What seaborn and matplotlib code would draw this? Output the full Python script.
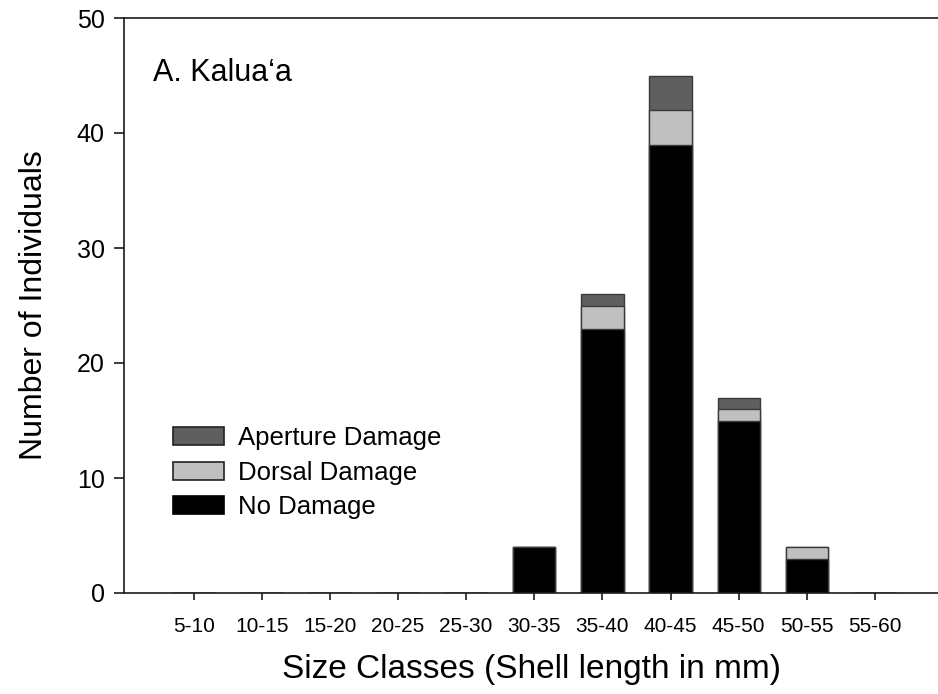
import matplotlib
matplotlib.use("Agg")
import matplotlib.pyplot as plt
import seaborn as sns
import pandas as pd
import numpy as np
from matplotlib.patches import Patch

# Size classes (shell length in mm) and counts per damage category
size_classes = ["5-10", "10-15", "15-20", "20-25", "25-30", "30-35",
                "35-40", "40-45", "45-50", "50-55", "55-60"]
no_damage = [0, 0, 0, 0, 0, 4, 23, 39, 15, 3, 0]
dorsal_damage = [0, 0, 0, 0, 0, 0, 2, 3, 1, 1, 0]
aperture_damage = [0, 0, 0, 0, 0, 0, 1, 3, 1, 0, 0]

sns.set_theme(style="ticks")
plt.rcParams["font.family"] = ["Liberation Sans", "DejaVu Sans"]
plt.rcParams["text.color"] = "black"
plt.rcParams["axes.labelcolor"] = "black"
plt.rcParams["xtick.color"] = "black"
plt.rcParams["ytick.color"] = "black"

df = pd.DataFrame({
    "size": size_classes,
    "none": no_damage,
    "dorsal": dorsal_damage,
    "aperture": aperture_damage,
})
df["lvl2"] = df["none"] + df["dorsal"]
df["lvl3"] = df["lvl2"] + df["aperture"]

c_ap, c_do, c_no = "#5f5f5f", "#c0c0c0", "#000000"

fig = plt.figure(figsize=(9.38, 6.94), dpi=100)
ax = fig.add_axes([124 / 938, 101 / 694, 1 - 124 / 938, 575 / 694])

# stacked bars drawn as overlapping cumulative totals
common = dict(x="size", order=size_classes, width=0.62, ax=ax,
              edgecolor="#3a3a3a", linewidth=1.0, errorbar=None)
sns.barplot(data=df, y="lvl3", color=c_ap, saturation=1, **common)
sns.barplot(data=df, y="lvl2", color=c_do, saturation=1, **common)
sns.barplot(data=df, y="none", color=c_no, saturation=1, **common)

ax.set_xlim(-1.022, 10.925)
ax.set_ylim(0, 50)
ax.set_yticks([0, 10, 20, 30, 40, 50])

for side in ["left", "bottom", "top"]:
    ax.spines[side].set_color("#1a1a1a")
    ax.spines[side].set_linewidth(1.2)
ax.spines["right"].set_visible(False)

ax.tick_params(axis="y", direction="out", length=7, width=1.2,
               color="#1a1a1a", labelcolor="black", labelsize=18, pad=7)
ax.tick_params(axis="x", direction="out", length=5, width=1.2,
               color="#1a1a1a", labelcolor="black", labelsize=15, pad=12)

ax.set_xlabel("Size Classes (Shell length in mm)", fontsize=24, labelpad=13,
              color="black")
ax.set_ylabel("Number of Individuals", fontsize=23, labelpad=20,
              color="black")

ax.text(0.036, 0.905, "A. Kalua\u2018a", transform=ax.transAxes,
        fontsize=22, va="center", ha="left", color="black")

handles = [Patch(facecolor=c_ap, edgecolor="#222222", linewidth=1.2),
           Patch(facecolor=c_do, edgecolor="#222222", linewidth=1.2),
           Patch(facecolor=c_no, edgecolor="#000000", linewidth=1.2)]
leg = ax.legend(handles, ["Aperture Damage", "Dorsal Damage", "No Damage"],
                loc="upper left", bbox_to_anchor=(0.06, 0.29), frameon=False,
                fontsize=18.5, handlelength=2.0, handleheight=0.7,
                handletextpad=0.55, labelspacing=0.4, borderpad=0,
                borderaxespad=0)
for t in leg.get_texts():
    t.set_color("black")

fig.savefig("out.png", dpi=100)
